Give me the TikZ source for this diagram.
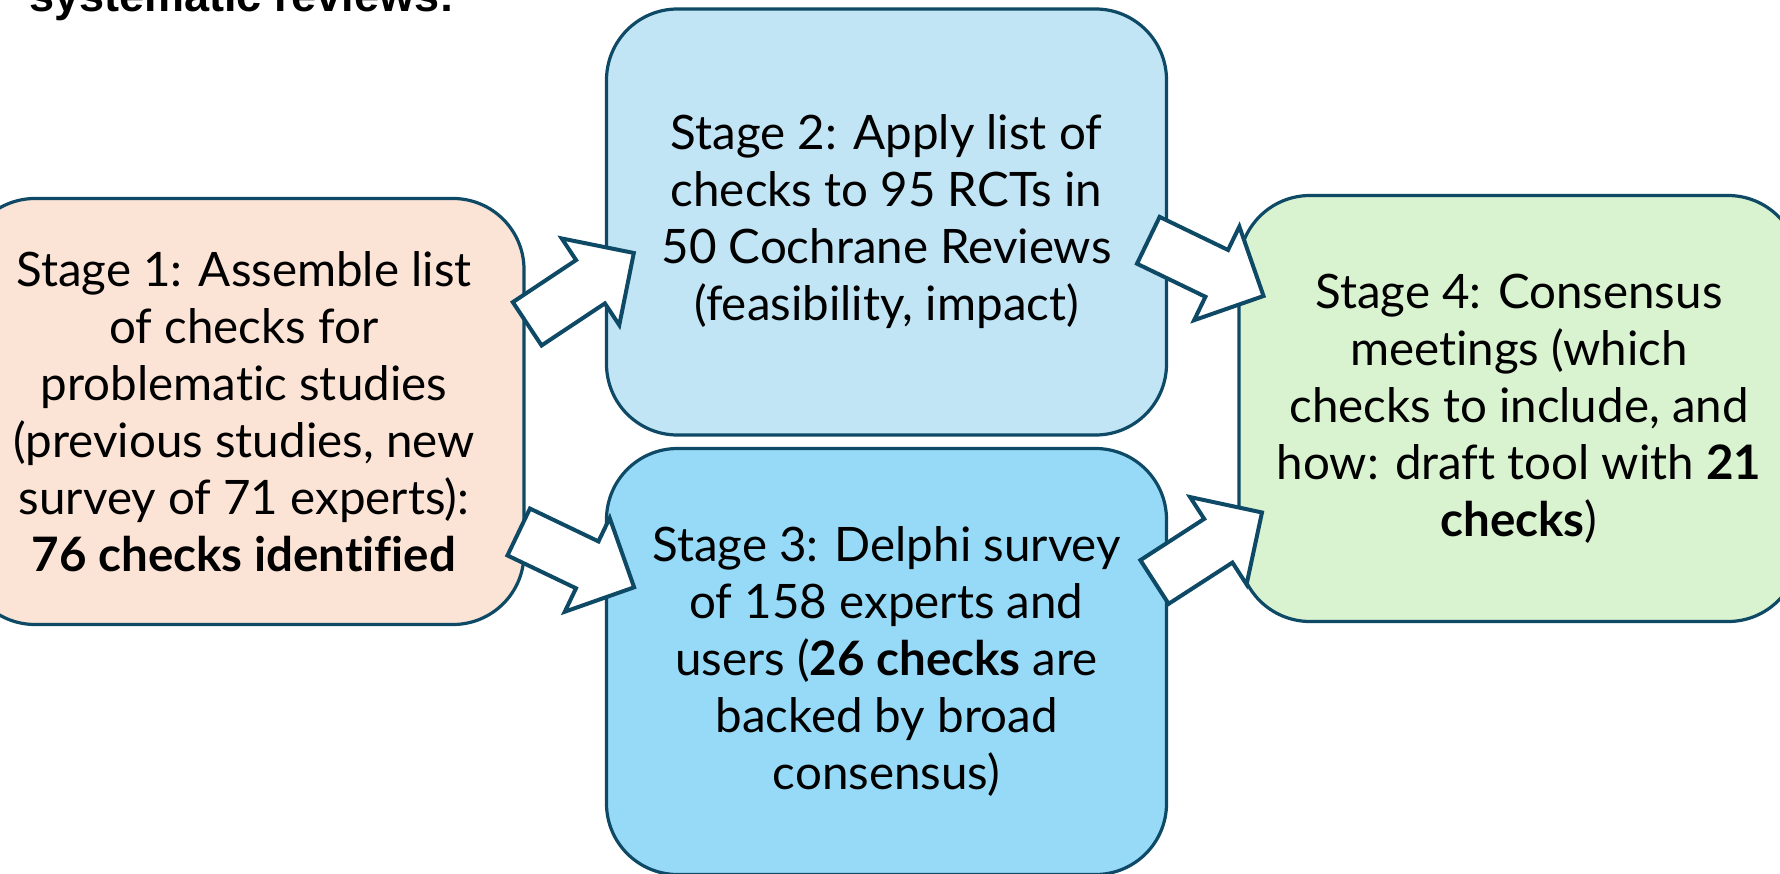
\documentclass[tikz,border=0pt]{standalone}
\usepackage{fontspec}
\setmainfont{Lato}[Ligatures={NoCommon}]
\newfontfamily\titlefont{Liberation Sans}
\definecolor{edge}{HTML}{0E4A66}
\definecolor{fillA}{HTML}{FBE3D6}
\definecolor{fillB}{HTML}{C1E5F5}
\definecolor{fillC}{HTML}{97DAF7}
\definecolor{fillD}{HTML}{D9F2D0}
\tikzset{
  stagebox/.style={draw=edge, line width=3.2pt, rounded corners=71pt,
    minimum width=560pt, minimum height=426pt, align=center, inner sep=0pt,
    font=\fontsize{47.5}{57}\selectfont},
  arrowline/.style={draw=edge, fill=white, line width=4pt, line join=miter},
  blockarrow/.pic={\path[arrowline] (0,-26) -- (76,-26) -- (76,-52) -- (128,0) -- (76,52) -- (76,26) -- (0,26) -- cycle;}
}
\begin{document}
\begin{tikzpicture}[x=1pt,y=-1pt]
\useasboundingbox (0,0) rectangle (1780,873);
\node[anchor=base west, inner sep=0pt, font=\titlefont\bfseries\fontsize{45}{54}\selectfont] (title) at (29,11) {systematic reviews:};
\node[stagebox, fill=fillA] (s1) at (244,411.5) {Stage 1: Assemble list\\ of checks for\\ problematic studies\\ (previous studies, new\\ survey of 71 experts):\\ \textbf{76 checks identified}};
\node[stagebox, fill=fillB] (s2) at (886.5,222) {Stage 2: Apply list of\\ checks to 95 RCTs in\\ 50 Cochrane Reviews\\ (feasibility, impact)};
\node[stagebox, fill=fillC] (s3) at (886.5,661.5) {Stage 3: Delphi survey\\ of 158 experts and\\ users (\textbf{26 checks} are\\ backed by broad\\ consensus)};
\node[stagebox, fill=fillD] (s4) at (1519,408.5) {Stage 4: Consensus\\ meetings (which\\ checks to include, and\\ how: draft tool with \textbf{21}\\ \textbf{checks})};
\pic[rotate=33.6] at (527.2,323.8) {blockarrow};
\pic[rotate=-25.6] at (518.7,532) {blockarrow};
\pic[rotate=-25.8] at (1148.3,240.3) {blockarrow};
\pic[rotate=32.9] at (1154.5,582) {blockarrow};
\end{tikzpicture}
\end{document}
